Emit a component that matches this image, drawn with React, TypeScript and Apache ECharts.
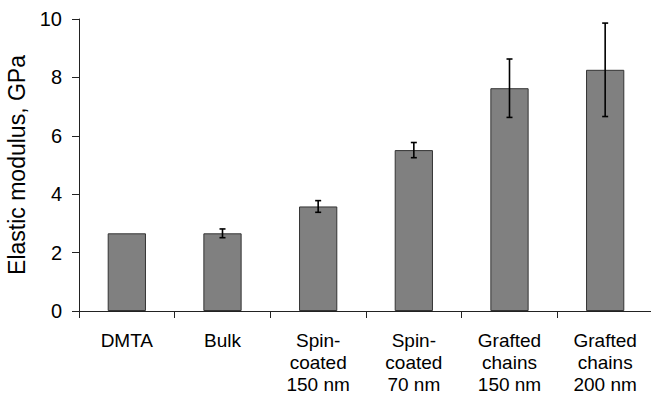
import React, { useEffect, useRef } from "react";
import * as echarts from "echarts";

const categories = [
  "DMTA",
  "Bulk",
  "Spin-\ncoated\n150 nm",
  "Spin-\ncoated\n70 nm",
  "Grafted\nchains\n150 nm",
  "Grafted\nchains\n200 nm",
];
const modulus = [2.66, 2.66, 3.58, 5.51, 7.63, 8.26];
const errors = [0, 0.15, 0.2, 0.26, 1.0, 1.6];
const yTicks = { min: 0, max: 10, interval: 2 };

const FONT = "'Liberation Sans', Arial, sans-serif";

export default function App() {
  const ref = useRef<HTMLDivElement>(null);
  useEffect(() => {
    if (!ref.current) return;
    const chart = echarts.init(ref.current, undefined, { renderer: "svg" });
    const errData = modulus
      .map((v, i) => [i, v, errors[i]])
      .filter((d) => d[2] > 0);
    chart.setOption({
      animation: false,
      backgroundColor: "#ffffff",
      grid: { left: 79, right: -2, top: 19, bottom: 85, outerBoundsMode: "none", containLabel: false },
      xAxis: {
        type: "category",
        data: categories,
        axisLine: { show: true, lineStyle: { color: "#222", width: 1 } },
        axisTick: { show: true, length: 7, lineStyle: { color: "#222", width: 1 } },
        axisLabel: {
          color: "#000",
          fontSize: 19,
          fontFamily: FONT,
          lineHeight: 22,
          margin: 18,
          interval: 0,
        },
      },
      yAxis: {
        type: "value",
        min: yTicks.min,
        max: yTicks.max,
        interval: yTicks.interval,
        name: "Elastic modulus, GPa",
        nameLocation: "middle",
        nameGap: 42,
        nameTextStyle: { color: "#000", fontSize: 23, fontFamily: FONT },
        axisLine: { show: true, lineStyle: { color: "#222", width: 1 } },
        axisTick: { show: true, length: 7, lineStyle: { color: "#222", width: 1 } },
        axisLabel: { color: "#000", fontSize: 20, fontFamily: FONT, margin: 17 },
        splitLine: { show: false },
      },
      series: [
        {
          type: "bar",
          data: modulus,
          barWidth: "40%",
          itemStyle: { color: "#808080", borderColor: "#333", borderWidth: 1 },
        },
        {
          type: "custom",
          data: errData,
          z: 10,
          renderItem: (params: any, api: any) => {
            const idx = api.value(0);
            const v = api.value(1);
            const e = api.value(2);
            const top = api.coord([idx, v + e]);
            const bot = api.coord([idx, v - e]);
            const hw = 3;
            const style = { stroke: "#000", lineWidth: 1.6 };
            return {
              type: "group",
              children: [
                { type: "line", shape: { x1: top[0], y1: top[1], x2: bot[0], y2: bot[1] }, style },
                { type: "line", shape: { x1: top[0] - hw, y1: top[1], x2: top[0] + hw, y2: top[1] }, style },
                { type: "line", shape: { x1: bot[0] - hw, y1: bot[1], x2: bot[0] + hw, y2: bot[1] }, style },
              ],
            };
          },
        },
      ],
    });
    return () => chart.dispose();
  }, []);
  return <div ref={ref} style={{ width: 651, height: 396, position: "absolute", left: 0, top: 0 }} />;
}
